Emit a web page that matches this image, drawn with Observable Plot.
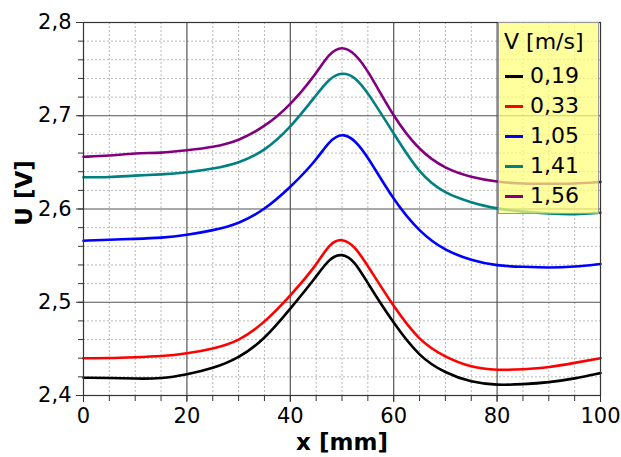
<!DOCTYPE html>
<html>
<head>
<meta charset="utf-8">
<script src="https://cdn.jsdelivr.net/npm/d3@7"></script>
<script src="https://cdn.jsdelivr.net/npm/@observablehq/plot@0.6"></script>
<style>
  html, body { margin: 0; padding: 0; background: #fff; }
  #wrap { position: relative; width: 621px; height: 457px; font-family: "DejaVu Sans", sans-serif; }
  #legend {
    position: absolute; left: 498px; top: 22px; width: 101px; height: 192px;
    background: rgba(255, 255, 120, 0.72); border: 1px solid #9a9a9a; box-sizing: border-box;
  }
  #legend .title { position: absolute; left: 5px; top: 6px; font-size: 22px; line-height: 26px; color: #000; white-space: nowrap; }
  #legend .item { position: absolute; left: 6px; font-size: 22px; line-height: 26px; color: #000; white-space: nowrap; }
  #legend .sw { display: inline-block; width: 18px; height: 3px; vertical-align: middle; margin-right: 7px; position: relative; top: -1px; }
</style>
</head>
<body>
<div id="wrap"></div>
<script>
// ---- data ----
const xs = [0, 5, 10, 15, 20, 25, 30, 35, 40, 45, 47.5, 50, 52.5, 55, 60, 65, 70, 75, 80, 85, 90, 95, 100];
const u019 = [2.419, 2.419, 2.418, 2.418, 2.4225, 2.429, 2.440, 2.460, 2.493, 2.527, 2.547, 2.553, 2.544, 2.520, 2.477, 2.441, 2.424, 2.414, 2.411, 2.412, 2.414, 2.418, 2.424];
const u033 = [2.440, 2.440, 2.441, 2.442, 2.445, 2.450, 2.458, 2.478, 2.507, 2.539, 2.563, 2.569, 2.560, 2.539, 2.495, 2.458, 2.441, 2.430, 2.427, 2.428, 2.430, 2.435, 2.440];
const u105 = [2.566, 2.567, 2.568, 2.569, 2.572, 2.577, 2.584, 2.599, 2.623, 2.652, 2.673, 2.682, 2.674, 2.656, 2.609, 2.575, 2.555, 2.545, 2.539, 2.538, 2.537, 2.538, 2.541];
const u141 = [2.634, 2.634, 2.636, 2.637, 2.639, 2.643, 2.649, 2.662, 2.687, 2.722, 2.740, 2.747, 2.742, 2.725, 2.681, 2.637, 2.616, 2.607, 2.600, 2.597, 2.595, 2.594, 2.596];
const u156 = [2.656, 2.657, 2.660, 2.660, 2.663, 2.666, 2.673, 2.688, 2.711, 2.745, 2.767, 2.775, 2.767, 2.749, 2.698, 2.662, 2.643, 2.634, 2.629, 2.627, 2.627, 2.627, 2.629];
const seriesNames = ["0,19", "0,33", "1,05", "1,41", "1,56"];
const seriesValues = [u019, u033, u105, u141, u156];
const seriesColors = ["#000000", "#ff0000", "#0000ff", "#008080", "#800080"];
const xMajorTicks = [0, 20, 40, 60, 80, 100];
const yMajorTicks = [2.4, 2.5, 2.6, 2.7, 2.8];
const xMinorTicks = d3.range(0, 101, 5);
const yMinorTicks = d3.range(2.4, 2.8001, 0.02).map(v => +v.toFixed(2));
const legendTitle = "V [m/s]";
const xLabel = "x [mm]";
const yLabel = "U [V]";

const rows = [];
seriesNames.forEach((name, i) => {
  xs.forEach((x, j) => rows.push({x, u: seriesValues[i][j], s: name}));
});

const comma = v => String(v).replace(".", ",");

const plot = Plot.plot({
  width: 621,
  height: 457,
  marginLeft: 83,
  marginRight: 21,
  marginTop: 22,
  marginBottom: 62,
  style: {fontFamily: "DejaVu Sans, sans-serif", background: "#fff", color: "#000"},
  x: {domain: [0, 100]},
  y: {domain: [2.4, 2.8]},
  color: {domain: seriesNames, range: seriesColors},
  marks: [
    Plot.ruleX(xMinorTicks.filter(v => v % 20 !== 0), {stroke: "#b8b8b8", strokeDasharray: "2,2", strokeWidth: 1}),
    Plot.ruleY(yMinorTicks.filter(v => !yMajorTicks.some(t => Math.abs(t - v) < 1e-6)), {stroke: "#b8b8b8", strokeDasharray: "2,2", strokeWidth: 1}),
    Plot.ruleX([20, 40, 60, 80], {stroke: "#555", strokeWidth: 1.2}),
    Plot.ruleY([2.5, 2.6, 2.7], {stroke: "#555", strokeWidth: 1.2}),
    Plot.line(rows, {x: "x", y: "u", z: "s", stroke: "s", strokeWidth: 2.6, curve: "basis"}),
    Plot.frame({stroke: "#333", strokeWidth: 1.2}),
    Plot.axisY(yMinorTicks, {tickSize: 5, text: null, label: null, stroke: "#333"}),
    Plot.axisY(yMajorTicks, {tickSize: 7, tickPadding: 5, tickFormat: comma, fontSize: 21, label: null, stroke: "#333"}),
    Plot.axisX(xMinorTicks, {tickSize: 6, text: null, label: null, stroke: "#333"}),
    Plot.axisX(xMajorTicks, {tickSize: 7, tickPadding: 6, tickFormat: comma, fontSize: 21, label: null, stroke: "#333"}),
    Plot.text([xLabel], {frameAnchor: "bottom", dy: 47, text: d => d, fontSize: 23, fontWeight: "bold", lineAnchor: "middle"}),
    Plot.text([yLabel], {frameAnchor: "left", textAnchor: "middle", dx: -59, dy: -16, rotate: -90, text: d => d, fontSize: 23, fontWeight: "bold", lineAnchor: "middle"})
  ]
});

const wrap = document.getElementById("wrap");
wrap.appendChild(plot);

const legend = document.createElement("div");
legend.id = "legend";
const t = document.createElement("div");
t.className = "title";
t.textContent = legendTitle;
legend.appendChild(t);
seriesNames.forEach((name, i) => {
  const it = document.createElement("div");
  it.className = "item";
  it.style.top = (40 + i * 30) + "px";
  const sw = document.createElement("span");
  sw.className = "sw";
  sw.style.background = seriesColors[i];
  it.appendChild(sw);
  it.appendChild(document.createTextNode(name));
  legend.appendChild(it);
});
wrap.appendChild(legend);
</script>
</body>
</html>
